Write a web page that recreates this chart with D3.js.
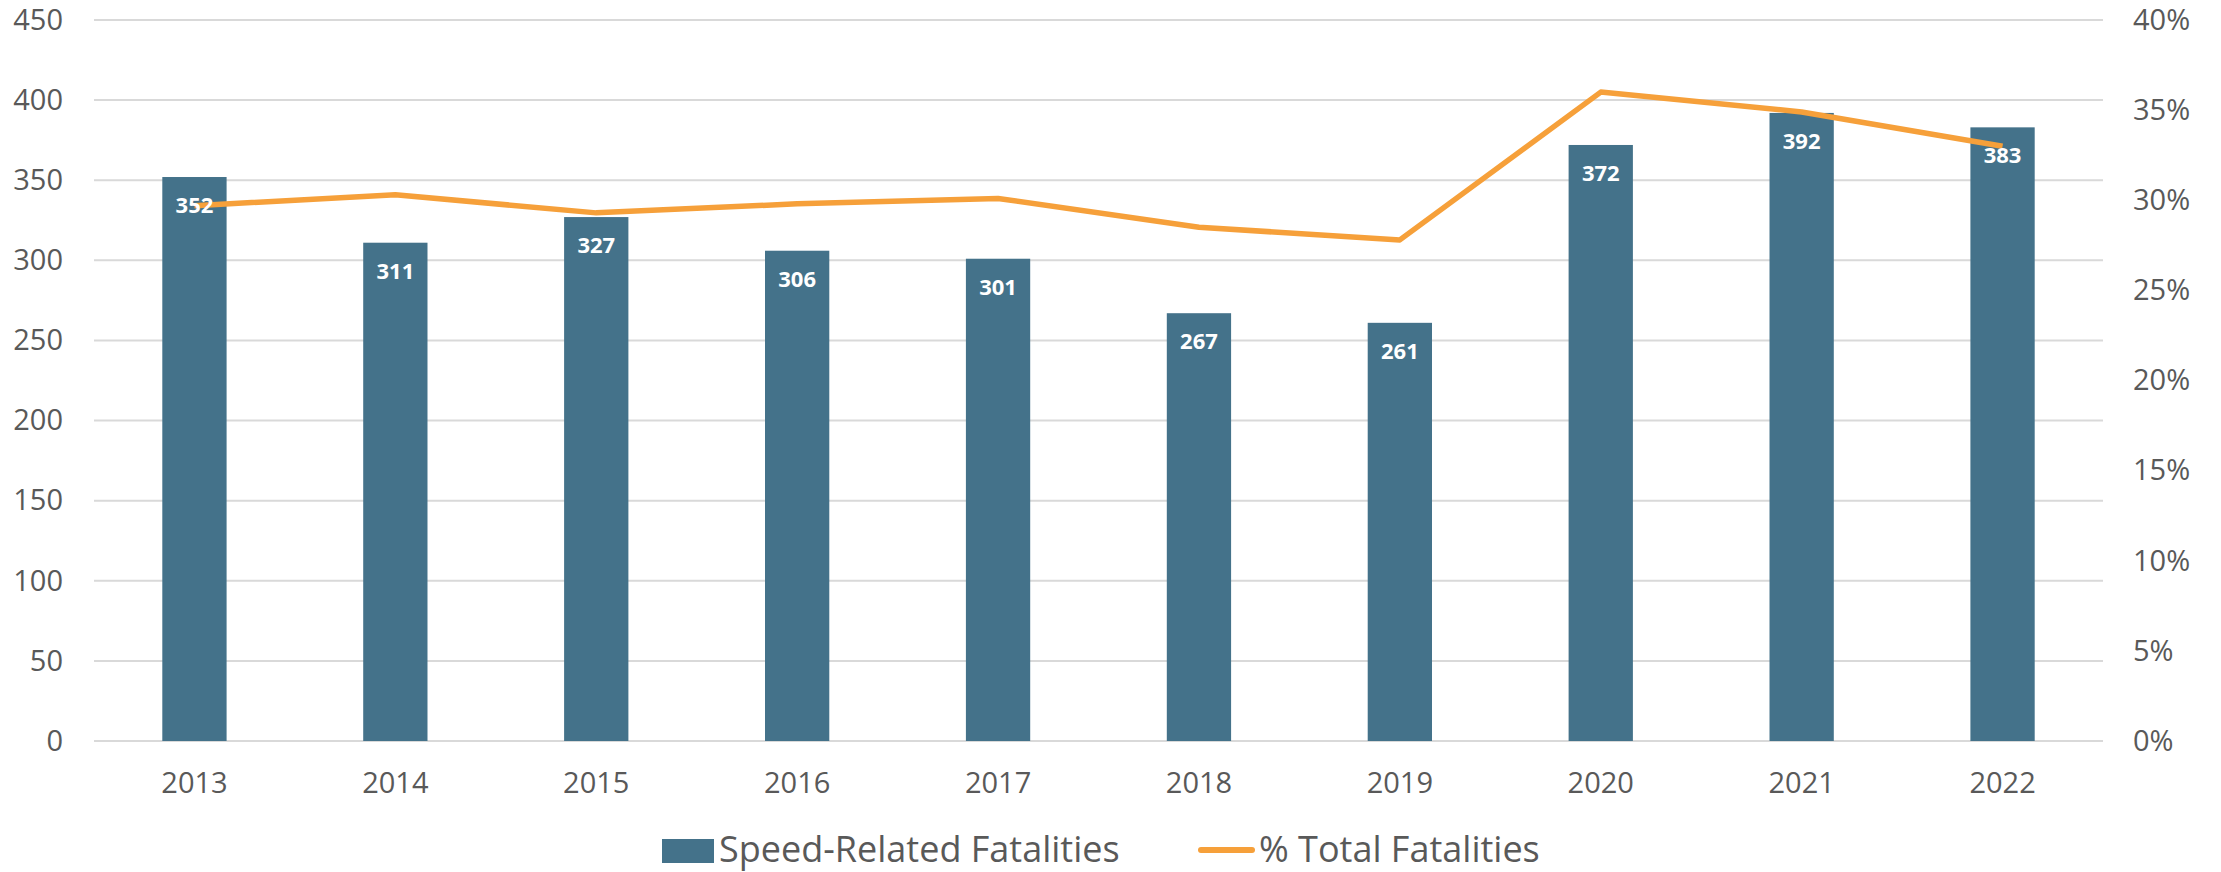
<!DOCTYPE html>
<html>
<head>
<meta charset="utf-8">
<script src="https://cdn.jsdelivr.net/npm/d3@7"></script>
<style>
  body { margin: 0; background: #ffffff; }
  svg { display: block; }
</style>
</head>
<body>
<div id="chart"></div>
<script>
// data
var years = ["2013", "2014", "2015", "2016", "2017", "2018", "2019", "2020", "2021", "2022"];
var speedFatalities = [352, 311, 327, 306, 301, 267, 261, 372, 392, 383];
var pctTotal = [29.7, 30.3, 29.3, 29.8, 30.1, 28.5, 27.8, 36.0, 34.9, 33.0];
var leftTicks = [0, 50, 100, 150, 200, 250, 300, 350, 400, 450];
var rightTicks = [0, 5, 10, 15, 20, 25, 30, 35, 40];
var seriesNames = ["Speed-Related Fatalities", "% Total Fatalities"];

var width = 2221;
var height = 872;
var margin = { top: 20, right: 118, bottom: 131, left: 94 };

var barColor = "#44728a";
var lineColor = "#f6a03a";
var textColor = "#595959";
var gridColor = "#d9d9d9";
var font = "'Open Sans', sans-serif";

var svg = d3.select("#chart")
    .append("svg")
    .attr("width", width)
    .attr("height", height)
    .attr("font-family", font);

var x = d3.scaleBand()
    .domain(years)
    .range([margin.left, width - margin.right])
    .paddingInner(0.68)
    .paddingOuter(0.34);

var y = d3.scaleLinear()
    .domain([0, 450])
    .range([height - margin.bottom, margin.top]);

var y2 = d3.scaleLinear()
    .domain([0, 40])
    .range([height - margin.bottom, margin.top]);

// gridlines
svg.append("g")
    .selectAll("line")
    .data(leftTicks)
    .enter().append("line")
    .attr("x1", margin.left)
    .attr("x2", width - margin.right)
    .attr("y1", function (d) { return y(d); })
    .attr("y2", function (d) { return y(d); })
    .attr("stroke", gridColor)
    .attr("stroke-width", 2);

// left axis
var leftAxis = svg.append("g")
    .attr("transform", "translate(" + (margin.left - 31) + ",0)")
    .call(d3.axisLeft(y).tickValues(leftTicks).tickSize(0).tickPadding(0));
leftAxis.select(".domain").remove();
leftAxis.selectAll("text")
    .attr("font-family", font)
    .attr("font-size", 29)
    .attr("fill", textColor);

// right axis
var rightAxis = svg.append("g")
    .attr("transform", "translate(" + (width - margin.right + 30) + ",0)")
    .call(d3.axisRight(y2).tickValues(rightTicks).tickSize(0).tickPadding(0)
        .tickFormat(function (d) { return d + "%"; }));
rightAxis.select(".domain").remove();
rightAxis.selectAll("text")
    .attr("font-family", font)
    .attr("font-size", 29)
    .attr("fill", textColor);

// bottom axis
var bottomAxis = svg.append("g")
    .attr("transform", "translate(0," + (height - margin.bottom) + ")")
    .call(d3.axisBottom(x).tickSize(0).tickPadding(0));
bottomAxis.select(".domain").remove();
bottomAxis.selectAll("text")
    .attr("font-family", font)
    .attr("font-size", 29)
    .attr("fill", textColor)
    .attr("dy", null)
    .attr("y", 52);

// bars
svg.append("g")
    .selectAll("rect")
    .data(speedFatalities)
    .enter().append("rect")
    .attr("x", function (d, i) { return x(years[i]); })
    .attr("y", function (d) { return y(d); })
    .attr("width", x.bandwidth())
    .attr("height", function (d) { return y(0) - y(d); })
    .attr("fill", barColor);

// line
var line = d3.line()
    .x(function (d, i) { return x(years[i]) + x.bandwidth() / 2; })
    .y(function (d) { return y2(d); });

svg.append("path")
    .datum(pctTotal)
    .attr("d", line)
    .attr("fill", "none")
    .attr("stroke", lineColor)
    .attr("stroke-width", 5.5)
    .attr("stroke-linejoin", "round");

// bar value labels (drawn over the line like the original)
svg.append("g")
    .selectAll("text")
    .data(speedFatalities)
    .enter().append("text")
    .attr("x", function (d, i) { return x(years[i]) + x.bandwidth() / 2; })
    .attr("y", function (d) { return y(d) + 36; })
    .attr("text-anchor", "middle")
    .attr("font-size", 22)
    .attr("font-weight", "bold")
    .attr("fill", "#ffffff")
    .text(function (d) { return d; });

// legend
var legend = svg.append("g");
legend.append("rect")
    .attr("x", 662)
    .attr("y", 839)
    .attr("width", 52)
    .attr("height", 24)
    .attr("fill", barColor);
legend.append("text")
    .attr("x", 719)
    .attr("y", 862)
    .attr("font-size", 36)
    .attr("fill", textColor)
    .text(seriesNames[0]);
legend.append("line")
    .attr("x1", 1201)
    .attr("x2", 1252)
    .attr("y1", 850)
    .attr("y2", 850)
    .attr("stroke", lineColor)
    .attr("stroke-width", 6)
    .attr("stroke-linecap", "round");
legend.append("text")
    .attr("x", 1259)
    .attr("y", 862)
    .attr("font-size", 36)
    .attr("fill", textColor)
    .text(seriesNames[1]);
</script>
</body>
</html>
